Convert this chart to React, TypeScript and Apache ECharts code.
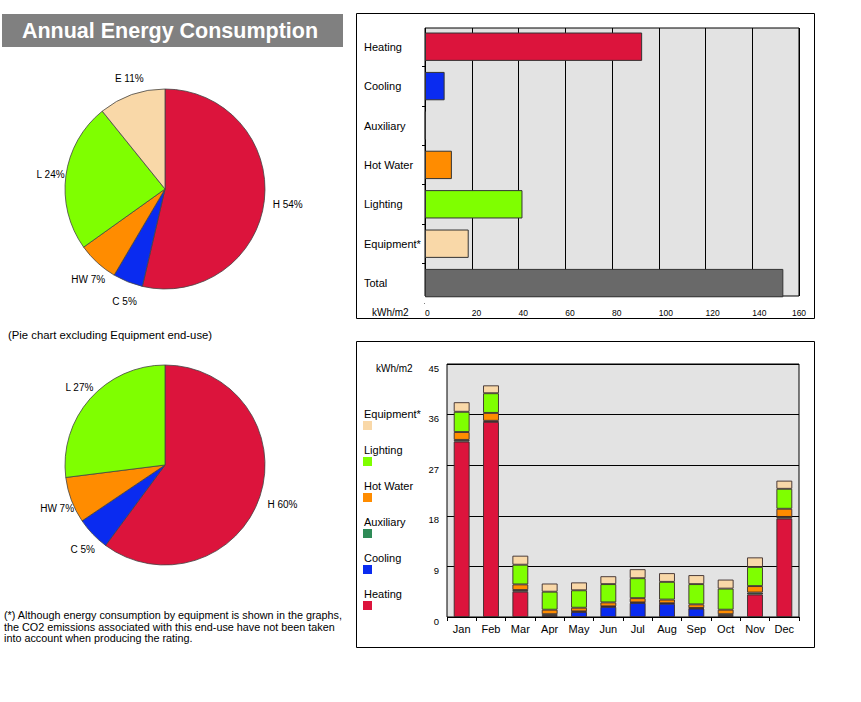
import React, { useEffect, useRef } from 'react';
import * as echarts from 'echarts';

const FONT = 'Liberation Sans, Arial, Helvetica, sans-serif';

// Annual end-use consumption (kWh/m2)
const endUses = ['Heating', 'Cooling', 'Auxiliary', 'Hot Water', 'Lighting', 'Equipment*', 'Total'];
const annualKWh = [92.9, 8.4, 0.3, 11.5, 41.7, 18.7, 153.3];
const endUseColors = ['#DC143C', '#0A2BF0', '#2E8B57', '#FF8C00', '#7FFF00', '#F9D8A8', '#696969'];
const xTicks = [0, 20, 40, 60, 80, 100, 120, 140, 160];

// Pie slices (abbreviations / values / colours)
const pieAllLabels = ['H', 'C', 'HW', 'L', 'E'];
const pieAllValues = [92.9, 8.4, 11.5, 41.7, 18.7];
const pieAllColors = ['#DC143C', '#0A2BF0', '#FF8C00', '#7FFF00', '#F9D8A8'];
const pieNoEqLabels = ['H', 'C', 'HW', 'L'];
const pieNoEqValues = [92.9, 8.4, 11.5, 41.7];
const pieNoEqColors = ['#DC143C', '#0A2BF0', '#FF8C00', '#7FFF00'];

// Monthly consumption (kWh/m2)
const months = ['Jan', 'Feb', 'Mar', 'Apr', 'May', 'Jun', 'Jul', 'Aug', 'Sep', 'Oct', 'Nov', 'Dec'];
const heatingM = [31.2, 34.7, 4.5, 0.2, 0, 0, 0, 0, 0, 0.2, 4.0, 17.5];
const coolingM = [0, 0, 0, 0, 0.9, 1.8, 2.5, 2.35, 1.5, 0, 0, 0];
const auxiliaryM = [0.3, 0.2, 0.3, 0.3, 0.1, 0.1, 0.1, 0.1, 0.1, 0.3, 0.35, 0.3];
const hotWaterM = [1.4, 1.4, 1.0, 0.8, 0.65, 0.7, 0.75, 0.65, 0.65, 0.8, 1.15, 1.45];
const lightingM = [3.6, 3.5, 3.5, 3.2, 3.1, 3.25, 3.55, 3.15, 3.6, 3.75, 3.4, 3.55];
const equipmentM = [1.7, 1.4, 1.6, 1.45, 1.4, 1.4, 1.6, 1.55, 1.6, 1.6, 1.7, 1.45];
const yTicksM = [0, 9, 18, 27, 36, 45];

const monthlySeries = [
  { name: 'Heating', data: heatingM, color: '#DC143C' },
  { name: 'Cooling', data: coolingM, color: '#0A2BF0' },
  { name: 'Auxiliary', data: auxiliaryM, color: '#2E8B57' },
  { name: 'Hot Water', data: hotWaterM, color: '#FF8C00' },
  { name: 'Lighting', data: lightingM, color: '#7FFF00' },
  { name: 'Equipment*', data: equipmentM, color: '#F9D8A8' },
];

const footnote = [
  '(*) Although energy consumption by equipment is shown in the graphs,',
  'the CO2 emissions associated with this end-use have not been taken',
  'into account when producing the rating.',
];

function pieSeries(center: number[], labels: string[], values: number[], colors: string[]) {
  const data = values.map((v, i) => ({ name: labels[i], value: v, itemStyle: { color: colors[i] } }));
  return [
    {
      type: 'pie',
      center,
      radius: 100,
      startAngle: 90,
      clockwise: true,
      silent: true,
      label: { show: false },
      labelLine: { show: false },
      itemStyle: { borderColor: '#444', borderWidth: 0.8 },
      data,
    },
    {
      type: 'pie',
      center: [center[0] + 4, center[1] + 2],
      radius: [110, 123],
      startAngle: 90,
      clockwise: true,
      silent: true,
      itemStyle: { color: 'rgba(0,0,0,0)', borderWidth: 0 },
      label: {
        show: true,
        position: 'inside',
        color: '#000',
        fontSize: 10,
        fontFamily: FONT,
        formatter: (p: any) => `${p.name} ${Math.round(p.percent)}%`,
      },
      labelLine: { show: false },
      data: values.map((v, i) => ({ name: labels[i], value: v })),
    },
  ];
}

export default function App() {
  const ref = useRef<HTMLDivElement>(null);
  useEffect(() => {
    const chart = echarts.init(ref.current!, null, { renderer: 'svg' });

    const legendGraphics: any[] = [];
    const legendOrder = [...monthlySeries].reverse();
    legendOrder.forEach((s, i) => {
      const y = 414 + i * 36;
      legendGraphics.push({
        type: 'text',
        x: 364,
        y,
        style: { text: s.name, font: `11px ${FONT}`, fill: '#000', textAlign: 'left', textVerticalAlign: 'middle' },
      });
      legendGraphics.push({
        type: 'rect',
        shape: { x: 363, y: y + 7, width: 9, height: 9 },
        style: { fill: s.color },
      });
    });

    const option: any = {
      animation: false,
      backgroundColor: '#fff',
      textStyle: { fontFamily: FONT },
      graphic: [
        { type: 'rect', shape: { x: 2, y: 14, width: 341, height: 33 }, style: { fill: '#808080' } },
        {
          type: 'text',
          x: 170,
          y: 31,
          style: {
            text: 'Annual Energy Consumption',
            font: `bold 21.5px ${FONT}`,
            fill: '#fff',
            textAlign: 'center',
            textVerticalAlign: 'middle',
          },
        },
        {
          type: 'text',
          x: 8,
          y: 335,
          style: {
            text: '(Pie chart excluding Equipment end-use)',
            font: `11.3px ${FONT}`,
            fill: '#000',
            textAlign: 'left',
            textVerticalAlign: 'middle',
          },
        },
        ...footnote.map((t, i) => ({
          type: 'text',
          x: 4,
          y: 615 + i * 11.5,
          style: { text: t, font: `10.8px ${FONT}`, fill: '#000', textAlign: 'left', textVerticalAlign: 'middle' },
        })),
        {
          type: 'rect',
          shape: { x: 356.5, y: 13.5, width: 458, height: 305 },
          style: { fill: 'none', stroke: '#000', lineWidth: 1 },
          z: -1,
        },
        {
          type: 'rect',
          shape: { x: 356.5, y: 341.5, width: 458, height: 306 },
          style: { fill: 'none', stroke: '#000', lineWidth: 1 },
          z: -1,
        },
        {
          // hides the band-end tick that falls below the plot frame
          type: 'rect',
          shape: { x: 418, y: 298, width: 6.5, height: 8 },
          style: { fill: '#fff' },
          z: 100,
        },
        {
          type: 'text',
          x: 372,
          y: 312,
          style: { text: 'kWh/m2', font: `10px ${FONT}`, fill: '#000', textAlign: 'left', textVerticalAlign: 'middle' },
          z: 101,
        },
        {
          type: 'text',
          x: 376,
          y: 368,
          style: { text: 'kWh/m2', font: `10px ${FONT}`, fill: '#000', textAlign: 'left', textVerticalAlign: 'middle' },
        },
        ...legendGraphics,
      ],
      grid: [
        {
          // visible frame of the annual bar chart
          left: 425,
          top: 28,
          width: 374,
          height: 268,
          show: true,
          backgroundColor: '#E3E3E3',
          borderColor: '#000',
          borderWidth: 1,
        },
        {
          left: 447,
          top: 364,
          width: 352,
          height: 253,
          show: true,
          backgroundColor: '#E3E3E3',
          borderColor: '#000',
          borderWidth: 1,
        },
        {
          // category bands of the annual bar chart
          left: 425,
          top: 27,
          width: 374,
          height: 275.8,
          show: false,
        },
      ],
      xAxis: [
        {
          type: 'value',
          gridIndex: 0,
          min: xTicks[0],
          max: xTicks[xTicks.length - 1],
          interval: 20,
          axisLine: { show: false },
          axisTick: { show: false },
          splitLine: { show: true, lineStyle: { color: '#000', width: 1 } },
          axisLabel: {
            color: '#000',
            fontSize: 8.5,
            margin: 12,
            align: 'left',
            alignMaxLabel: 'center',
            fontFamily: FONT,
          },
        },
        {
          type: 'category',
          gridIndex: 1,
          data: months,
          axisLine: { show: false },
          axisTick: { show: true, length: 4, lineStyle: { color: '#000' } },
          axisLabel: { color: '#000', fontSize: 11, margin: 6, fontFamily: FONT },
        },
        {
          type: 'value',
          gridIndex: 2,
          min: xTicks[0],
          max: xTicks[xTicks.length - 1],
          interval: 20,
          show: false,
        },
      ],
      yAxis: [
        {
          type: 'value',
          gridIndex: 0,
          show: false,
        },
        {
          type: 'value',
          gridIndex: 1,
          min: yTicksM[0],
          max: yTicksM[yTicksM.length - 1],
          interval: 9,
          axisLine: { show: false },
          axisTick: { show: false },
          splitLine: { show: true, lineStyle: { color: '#000', width: 1 } },
          axisLabel: {
            color: '#000',
            fontSize: 9.5,
            margin: 8,
            verticalAlign: 'top',
            lineHeight: 8,
            fontFamily: FONT,
          },
        },
        {
          type: 'category',
          gridIndex: 2,
          inverse: true,
          data: endUses,
          axisLine: { show: false },
          axisTick: {
            show: true,
            length: 3,
            interval: (index: number) => index > 0,
            lineStyle: { color: '#000' },
          },
          axisLabel: { color: '#000', fontSize: 11, align: 'left', margin: 61, interval: 0, fontFamily: FONT },
        },
      ],
      series: [
        {
          type: 'bar',
          xAxisIndex: 2,
          yAxisIndex: 2,
          barWidth: '72%',
          silent: true,
          data: annualKWh.map((v, i) => ({
            value: v,
            itemStyle: { color: endUseColors[i], borderColor: '#333', borderWidth: 1 },
          })),
        },
        ...monthlySeries.map((s) => ({
          type: 'bar',
          name: s.name,
          xAxisIndex: 1,
          yAxisIndex: 1,
          stack: 'monthly',
          barWidth: '54%',
          silent: true,
          itemStyle: { color: s.color, borderColor: '#3a2a2a', borderWidth: 0.9 },
          data: s.data.map((v) => (v > 0 ? v : null)),
        })),
        ...pieSeries([165, 189], pieAllLabels, pieAllValues, pieAllColors),
        ...pieSeries([165, 465], pieNoEqLabels, pieNoEqValues, pieNoEqColors),
      ],
    };

    chart.setOption(option);
    return () => chart.dispose();
  }, []);

  return (
    <div
      ref={ref}
      style={{ position: 'absolute', left: 0, top: 0, width: 861, height: 702, background: '#fff' }}
    />
  );
}
